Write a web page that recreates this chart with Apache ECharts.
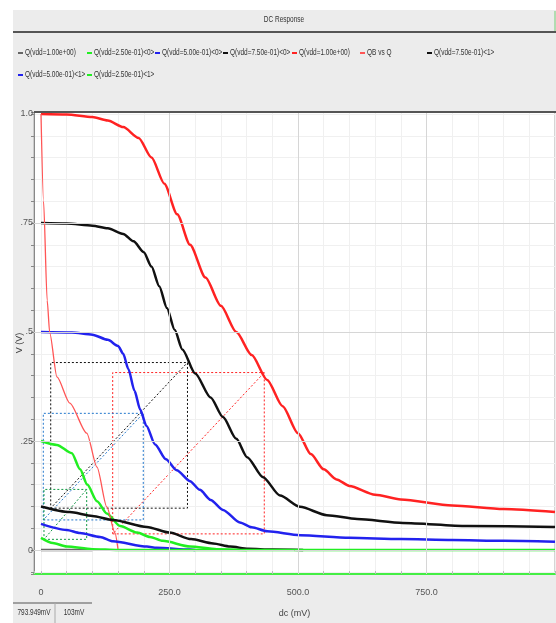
<!doctype html>
<html>
<head>
<meta charset="utf-8">
<title>DC Response</title>
<style>
  html, body { margin: 0; padding: 0; background: #fff; }
  #main { width: 556px; height: 623px; }
</style>
</head>
<body>
<div id="main"></div>
<script src="https://cdn.jsdelivr.net/npm/echarts@6/dist/echarts.min.js"></script>
<script>
var FONT = "'Liberation Sans', Arial, sans-serif";

// dc sweep in mV, output in V
var grayX = [0, 100];
var grayY = [0, 0];

var g0X = [0, 31, 60, 76, 90, 109, 128, 154, 187, 212, 237, 290, 342, 400];
var g0Y = [0.25, 0.241, 0.222, 0.185, 0.15, 0.112, 0.084, 0.055, 0.04, 0.03, 0.021, 0.008, 0.002, 0];

var b0X = [0, 60, 100, 130, 150, 160, 170, 182, 193, 205, 222, 243, 264, 290, 309, 330, 354, 387, 410, 440, 504, 600, 700, 800, 900, 1000];
var b0Y = [0.5, 0.499, 0.494, 0.482, 0.468, 0.45, 0.415, 0.365, 0.322, 0.285, 0.242, 0.208, 0.183, 0.158, 0.138, 0.115, 0.092, 0.063, 0.052, 0.043, 0.034, 0.028, 0.025, 0.023, 0.021, 0.019];

var k0X = [0, 50, 100, 130, 160, 180, 200, 215, 230, 245, 260, 275, 300, 330, 354, 380, 401, 432, 465, 504, 556, 615, 704, 829, 1000];
var k0Y = [0.75, 0.749, 0.744, 0.738, 0.725, 0.708, 0.683, 0.65, 0.605, 0.555, 0.505, 0.46, 0.405, 0.35, 0.305, 0.255, 0.213, 0.167, 0.125, 0.099, 0.08, 0.071, 0.062, 0.055, 0.053];

var r0X = [0, 50, 100, 130, 160, 190, 215, 240, 265, 290, 320, 350, 380, 410, 440, 470, 500, 525, 550, 575, 600, 650, 700, 800, 900, 1000];
var r0Y = [1.0, 0.999, 0.993, 0.985, 0.97, 0.945, 0.9, 0.84, 0.77, 0.7, 0.625, 0.56, 0.5, 0.447, 0.39, 0.33, 0.268, 0.22, 0.185, 0.162, 0.147, 0.127, 0.116, 0.102, 0.094, 0.087];

var qbX = [0, 5, 12, 17, 31, 56, 89, 109, 128, 144, 150];
var qbY = [1.0, 0.8, 0.573, 0.498, 0.397, 0.337, 0.268, 0.19, 0.099, 0.039, 0];

var k1X = [0, 56, 100, 140, 206, 250, 292, 335, 368, 403, 450, 510];
var k1Y = [0.1, 0.087, 0.078, 0.069, 0.053, 0.04, 0.025, 0.015, 0.008, 0.003, 0.001, 0];

var b1X = [0, 50, 76, 115, 140, 206, 225, 290, 300];
var b1Y = [0.06, 0.046, 0.039, 0.03, 0.02, 0.008, 0.005, 0.001, 0];

var g1X = [0, 23, 50, 100, 150, 1000];
var g1Y = [0.028, 0.016, 0.008, 0.002, 0, 0];

// noise margin boxes: [left mV, right mV, bottom V, top V]
var boxRed = [139.5, 434.4, 0.037, 0.407];
var boxBlack = [18.9, 285, 0.096, 0.43];
var boxBlue = [4.5, 199, 0.069, 0.3135];
var boxGreen = [5.8, 88.9, 0.0245, 0.139];

var names = [
    'Q(vdd=1.00e+00)',
    'Q(vdd=2.50e-01)<0>',
    'Q(vdd=5.00e-01)<0>',
    'Q(vdd=7.50e-01)<0>',
    'Q(vdd=1.00e+00) ',
    'QB vs Q',
    'Q(vdd=7.50e-01)<1>',
    'Q(vdd=5.00e-01)<1>',
    'Q(vdd=2.50e-01)<1>'
];
var colors = ['#666', '#22ee22', '#2222ee', '#111', '#ff2222', '#ff5555', '#111', '#2222ee', '#22ee22'];

function zip(xs, ys) {
    return xs.map(function (x, i) { return [x, ys[i]]; });
}

function boxPath(b) {
    return [[b[0], b[2]], [b[1], b[2]], [b[1], b[3]], [b[0], b[3]], [b[0], b[2]], [b[1], b[3]]];
}

function curve(i, xs, ys, width) {
    return {
        name: names[i],
        type: 'line',
        data: zip(xs, ys),
        showSymbol: false,
        symbol: 'none',
        smooth: 0.25,
        smoothMonotone: 'x',
        z: 3,
        lineStyle: { color: colors[i], width: width },
        itemStyle: { color: colors[i] }
    };
}

function box(b, color) {
    return {
        type: 'line',
        data: boxPath(b),
        symbol: 'none',
        silent: true,
        z: 2,
        lineStyle: { color: color, width: 1, type: [2, 2] }
    };
}

// narrow text, like the original tool's condensed font
function narrowText(x, y, text, align) {
    return {
        type: 'text', x: x, y: y, scaleX: 0.72,
        style: { text: text, font: '9px ' + FONT, fill: '#333', align: align || 'left', verticalAlign: 'middle' }
    };
}

var legendLeft = [18, 87, 155, 223, 292, 360, 427, 18, 87];
var legendTop = [53, 53, 53, 53, 53, 53, 53, 75, 75];

var legendItems = names.map(function (n, i) {
    return {
        type: 'group',
        x: legendLeft[i],
        y: legendTop[i],
        children: [
            { type: 'rect', shape: { x: 0, y: -1, width: 5, height: 2 }, style: { fill: colors[i] } },
            narrowText(7, 0, n.trim())
        ]
    };
});

var chart = echarts.init(document.getElementById('main'));

var majorLines = {
    type: 'line',
    data: [],
    z: 1,
    silent: true,
    markLine: {
        silent: true,
        symbol: ['none', 'none'],
        label: { show: false },
        animation: false,
        lineStyle: { color: '#d6d6d6', width: 1, type: 'solid' },
        data: [
            { xAxis: 250 }, { xAxis: 500 }, { xAxis: 750 },
            { yAxis: 0.25 }, { yAxis: 0.5 }, { yAxis: 0.75 }, { yAxis: 0 }
        ]
    }
};

chart.setOption({
    animation: false,
    backgroundColor: '#fff',
    graphic: [
        { type: 'rect', shape: { x: 13, y: 10, width: 543, height: 613 }, style: { fill: '#ececec' }, z: -10 },
        { type: 'line', shape: { x1: 13, y1: 32, x2: 556, y2: 32 }, style: { stroke: '#555', lineWidth: 2 }, z: -5 },
        { type: 'line', shape: { x1: 555, y1: 11, x2: 555, y2: 31 }, style: { stroke: '#7c7', lineWidth: 1 }, z: -5 },
        narrowText(284, 20, 'DC Response', 'center'),
        { type: 'line', shape: { x1: 34, y1: 112, x2: 556, y2: 112 }, style: { stroke: '#555', lineWidth: 2 }, z: 20 },
        { type: 'line', shape: { x1: 13, y1: 603, x2: 92, y2: 603 }, style: { stroke: '#555', lineWidth: 1 } },
        { type: 'line', shape: { x1: 55, y1: 603, x2: 55, y2: 623 }, style: { stroke: '#aaa', lineWidth: 1 } },
        narrowText(34, 613, '793.949mV', 'center'),
        narrowText(74, 613, '103mV', 'center')
    ].concat(legendItems),
    grid: {
        left: 34,
        top: 112,
        right: 1,
        bottom: 49,
        outerBoundsMode: 'none',
        containLabel: false,
        show: true,
        backgroundColor: '#fff',
        borderColor: '#aaa',
        borderWidth: 1
    },
    xAxis: {
        type: 'value',
        min: -13.6,
        max: 1000,
        splitNumber: 20,
        name: 'dc (mV)',
        nameLocation: 'middle',
        nameGap: 35,
        nameTextStyle: { fontFamily: FONT, fontSize: 9, color: '#444' },
        axisLine: { show: true, onZero: false, lineStyle: { color: '#4e4', width: 2 } },
        axisTick: { show: true, inside: true, length: 3, lineStyle: { color: '#bbb' } },
        axisLabel: {
            fontFamily: FONT, fontSize: 9, color: '#555', margin: 14,
            showMinLabel: true, showMaxLabel: true,
            formatter: function (v) {
                if (Math.abs(v) < 1e-6) return '0';
                if (v > 0 && v < 999 && Math.abs(v % 250) < 1e-6) return v.toFixed(1);
                return '';
            }
        },
        splitLine: { show: true, lineStyle: { color: '#f0f0f0', width: 1 } }
    },
    yAxis: {
        type: 'value',
        min: -0.055,
        max: 1.0046,
        splitNumber: 21,
        name: 'V (V)',
        nameLocation: 'middle',
        nameRotate: 90,
        nameGap: 10,
        nameMoveOverlap: false,
        nameTextStyle: { fontFamily: FONT, fontSize: 9, color: '#444' },
        axisLine: { show: true, onZero: false, lineStyle: { color: '#888', width: 1 } },
        axisTick: { show: true, inside: false, length: 3, lineStyle: { color: '#888' } },
        axisLabel: {
            fontFamily: FONT, fontSize: 9, color: '#555', margin: 1,
            showMinLabel: true, showMaxLabel: true,
            formatter: function (v) {
                if (Math.abs(v) < 1e-6) return '0';
                if (Math.abs(v - 1) < 1e-6) return '1.0';
                if (Math.abs(v - 0.75) < 1e-6) return '.75';
                if (Math.abs(v - 0.5) < 1e-6) return '.5';
                if (Math.abs(v - 0.25) < 1e-6) return '.25';
                return '';
            }
        },
        splitLine: { show: true, lineStyle: { color: '#f0f0f0', width: 1 } }
    },
    series: [
        majorLines,
        box(boxRed, '#f22'),
        box(boxBlack, '#111'),
        box(boxBlue, '#2277cc'),
        box(boxGreen, '#119944'),
        curve(0, grayX, grayY, 2.5),
        curve(1, g0X, g0Y, 2.5),
        curve(2, b0X, b0Y, 2.5),
        curve(3, k0X, k0Y, 2.5),
        curve(4, r0X, r0Y, 2.5),
        curve(5, qbX, qbY, 1.3),
        curve(6, k1X, k1Y, 2.5),
        curve(7, b1X, b1Y, 2.5),
        curve(8, g1X, g1Y, 2.5)
    ]
});

window.addEventListener('resize', function () {
    chart.resize();
});
</script>
</body>
</html>
